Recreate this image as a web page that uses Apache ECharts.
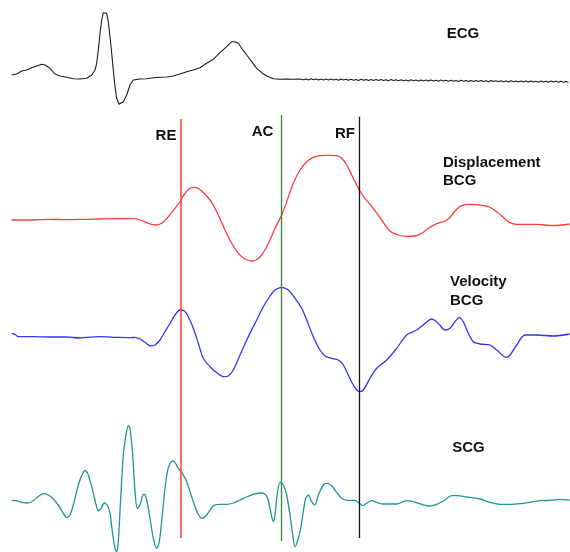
<!DOCTYPE html>
<html>
<head>
<meta charset="utf-8">
<script src="https://cdn.jsdelivr.net/npm/echarts@6/dist/echarts.min.js"></script>
<style>
  html, body { margin: 0; padding: 0; background: #fff; }
  #chart { width: 570px; height: 552px; }
</style>
</head>
<body>
<div id="chart"></div>
<script>
// sample positions (time) and levels, in picture units
const ecgT = [11.7,16.7,21.7,26.7,31.7,36.7,41.7,45,50,55,60,66.7,73.3,80,86.7,91.7,95,96.7,98.3,100,101.7,103.3,105,106.7,108.3,110,111.7,113.3,115,116.7,119,120.7,123.3,126.7,130,133.3,140,146.7,153.3,160,166.7,173.3,180,186.7,193.3,200,206.7,213.3,220,226.7,231.7,235,238.3,241.7,246.7,251.7,256.7,261.7,266.7,273.3,280,286.7,293.3,299.3];
const ecgV = [75,74,71,70,67.7,66,64.3,65,68.3,74,76,77.3,78.7,79,78.3,75,70,63.3,50,33.3,20,12.7,11,13.3,21.7,36.7,53.3,70,86.7,98.3,104.3,105,101.7,95,85,80,79,78.7,77.7,77.3,77,76,74,71.7,70,67.7,63.3,59.3,52.7,46.7,41.7,41.7,43.3,48.3,55,61.7,68.3,72.7,76,78.7,79.3,79,79.3,79];

// the small ripple on the flat end of the ECG
const ecgTailStart = 301;
const ecgTailStep = 2.5;
const ecgTailV = [
  78.8,79.8,78.9,79.9,78.8,79.8,79,80,78.9,79.9,79.1,80.1,79,80,79.2,80.2,
  79.1,80.1,79.3,80.3,79.2,80.2,79.4,80.4,79.3,80.3,79.5,80.5,79.4,80.4,79.6,80.6,
  79.5,80.5,79.7,80.7,79.6,80.6,79.8,80.8,79.7,80.7,79.9,80.9,79.8,80.8,80,81,
  79.9,80.9,80.1,81.1,80,81,80.2,81.2,80.1,81.1,80.3,81.3,80.2,81.2,80.4,81.4,
  80.3,81.3,80.5,81.5,80.4,81.4,80.6,81.6,80.5,81.5,80.7,81.7,80.6,81.6,80.8,81.8,
  80.7,81.7,80.9,81.9,80.8,81.8,81,82,80.9,81.9,81.1,82.1,81,82,81.2,82.2,
  81.1,82.1,81.2,82.2,81.1,82.1,81.3,82.3,81.2,82.2,81.4,82.3
];

const dispT = [11.7,33.3,50,66.7,86.7,100,116.7,133.3,140,146.7,155,161.7,168.3,175,180.3,185,190,194.3,199.3,205,211.7,218.3,225,231.7,238.3,245,251.7,256.7,261.7,266.7,270,275,281.7,286.7,293.3,300,306.7,313.3,320,328.3,336.7,341.7,346.7,351.7,356.7,359.3,365,373.3,381.7,390,398.3,406.7,415,421.7,428.3,436.7,445,450,455,461.7,470,480,488.3,496.7,503.3,510,516.7,536.7,553.3,569.7];
const dispV = [220,220,219.3,219.7,219.3,219,218.7,218.7,220,222.7,225,223.3,216.7,208.3,201,193.3,188.3,187.3,189,194.3,202.3,215,230,243.3,253.3,259,261,259.7,255,246.7,240,228.3,215,201.7,183.3,170,161.7,157.3,155.7,155.3,155.7,158.3,165,175,185,190,198.3,208.3,220,231,235,236.3,236,233.3,228.3,223.7,221,217.3,211,205.7,204.3,205,206.7,211.7,217.3,222.7,224.3,224.3,225.7,224];

const velT = [11.7,15,18.3,33.3,50,66.7,80,86.7,100,116.7,130,135,140,145,150.7,155,160,165,170,175,180.3,184.3,188.3,193.3,198.3,203.3,210,216.7,224,228.3,233.3,240,248.3,256.7,263.3,270,275,281.7,288.3,295,301.7,306.7,313.3,320,325,331.7,338.3,343.3,348.3,353.3,359.3,363.3,370,376.7,386.7,396.7,406.7,416.7,423.3,431.7,438.3,445,450,455,459.3,463.3,468.3,473.3,480,490,496.7,503.3,506.7,510,516.7,525,536.7,553.3,569.7];
const velV = [333.3,334.3,336.7,336.7,337,337,338,337.3,336.7,337.3,337.7,337.3,339,342.3,346,345,340,331.7,323.3,315,310,310.7,316.7,328.3,343.3,358.3,366.7,372.7,376.7,376,370,355,336.7,320,306.7,296,290,287.3,290,298.3,308.3,320,336.7,350,356,358.3,360,365,375,385,391.7,390,378.3,368.3,360,348.3,335,330,325,319,323.3,330,328.3,321.7,317.3,321.7,333.3,341.7,344,345,350,356,357.3,355,345,335,335,336,334];

const scgT = [11.7,16.7,21.7,26.7,31.7,36.7,43.3,48.3,53.3,58.3,62.7,66.7,70,73.3,78.3,82.7,85,87.7,91.7,95.7,98.3,101,104.3,107.3,110,112.3,115,116.7,118.3,120.7,123.3,126,128.3,130,132.7,135,137.3,140,142.3,144,146.7,150,153.3,156.7,159.3,162.3,165,167.7,170.7,173.3,175.7,178.3,181.7,186.7,191.7,196.7,201.7,206.7,213.3,220,226.7,233.3,240,246.7,253.3,261.7,265,267.7,270,271.7,273.3,275,277.3,280,283.3,286.7,290,292.7,295,297.3,300.7,303.3,305.7,308.3,311.7,315,318.3,323.3,327.3,331.7,336.7,341.7,346.7,355,359.3,362.7,366.7,371.7,376.7,383.3,396.7,403.3,406.7,413.3,421.7,430,436.7,443.3,451.7,456.7,466.7,480,490,500,510,520,533.3,540,550,560,569.7];
const scgV = [500.3,500.7,502.3,503,501.7,497.7,493.7,495,499,505,512.3,517.7,515,505,485,473.3,470.3,473.3,486.7,503.3,511,508.3,503,505,513.3,531.7,548.3,551.7,541.7,498.3,455,435,425.7,428.3,455,491.7,508.3,505,496.7,494,500,518.3,538.3,548.3,541.7,515,488.3,470,462.3,461,463.7,468.3,472.7,481.7,496.7,511,518.3,515,505.7,504.3,504.3,503,500,497,494.3,493,494.3,498.3,508.3,516.7,521.7,515,493.3,482.3,485,495,515,535,546.7,541.7,528.3,511.7,498.3,495,501.7,505,495,485,483.3,485.7,492.3,498.3,500.3,500.3,503.3,505.7,503.3,500.7,502.3,504,504,501.7,500.7,501.7,504.3,506,504.3,501,495.7,495.7,497,499,502.3,504.3,504.3,503.7,501.7,500.7,500.3,499.3,500];

// event markers: time of RE, AC, RF
const markerNames = ['RE', 'AC', 'RF'];
const markerT = [180.3, 281, 359.3];

const zip = (t, v) => t.map((x, i) => [x, v[i]]);
const ecgData = zip(ecgT, ecgV).concat(ecgTailV.map((v, i) => [ecgTailStart + i * ecgTailStep, v]));

const chart = echarts.init(document.getElementById('chart'));
const font = '"Liberation Sans", Arial, sans-serif';

const markerStyle = [
  { color: '#ff3a3a', width: 1.5, top: 119, bottom: 538 },
  { color: '#2e8b2e', width: 1.3, top: 115, bottom: 541 },
  { color: '#111111', width: 1.3, top: 116.7, bottom: 538 }
];

const label = (text, x, y, align, vAlign, extra) => ({
  type: 'text',
  style: Object.assign({
    text, x, y, font: 'bold 15px ' + font, fill: '#111',
    textAlign: align, textVerticalAlign: vAlign, align: align, verticalAlign: vAlign
  }, extra || {})
});

const option = {
  animation: false,
  backgroundColor: '#fff',
  grid: { left: 0, right: 0, top: 0, bottom: 0 },
  xAxis: { type: 'value', min: 0, max: 570, show: false },
  yAxis: { type: 'value', min: 0, max: 552, inverse: true, show: false },
  series: [
    {
      name: 'ECG', type: 'line', data: ecgData, showSymbol: false,
      lineStyle: { color: '#1c1c1c', width: 1.1 },
      markLine: {
        silent: true, symbol: 'none', label: { show: false },
        data: markerT.map((t, i) => [
          { coord: [t, markerStyle[i].top], lineStyle: { color: markerStyle[i].color, width: markerStyle[i].width, type: 'solid' } },
          { coord: [t, markerStyle[i].bottom] }
        ])
      }
    },
    {
      name: 'Displacement BCG', type: 'line', data: zip(dispT, dispV), showSymbol: false, smooth: 0.3,
      lineStyle: { color: '#ff3c3c', width: 1.3 }
    },
    {
      name: 'Velocity BCG', type: 'line', data: zip(velT, velV), showSymbol: false, smooth: 0.3,
      lineStyle: { color: '#3535f2', width: 1.3 }
    },
    {
      name: 'SCG', type: 'line', data: zip(scgT, scgV), showSymbol: false, smooth: 0.25,
      lineStyle: { color: '#1f9691', width: 1.3 }
    }
  ],
  graphic: [
    label('ECG', 463, 34, 'center', 'middle'),
    label('Displacement\nBCG', 443, 154, 'left', 'top', { lineHeight: 18 }),
    label('Velocity\nBCG', 450, 272, 'left', 'top', { lineHeight: 19.5 }),
    label('SCG', 468.5, 448, 'center', 'middle'),
    label(markerNames[0], 166, 135.5, 'center', 'middle'),
    label(markerNames[1], 262.5, 132, 'center', 'middle'),
    label(markerNames[2], 345, 133.5, 'center', 'middle')
  ]
};

chart.setOption(option);
</script>
</body>
</html>
